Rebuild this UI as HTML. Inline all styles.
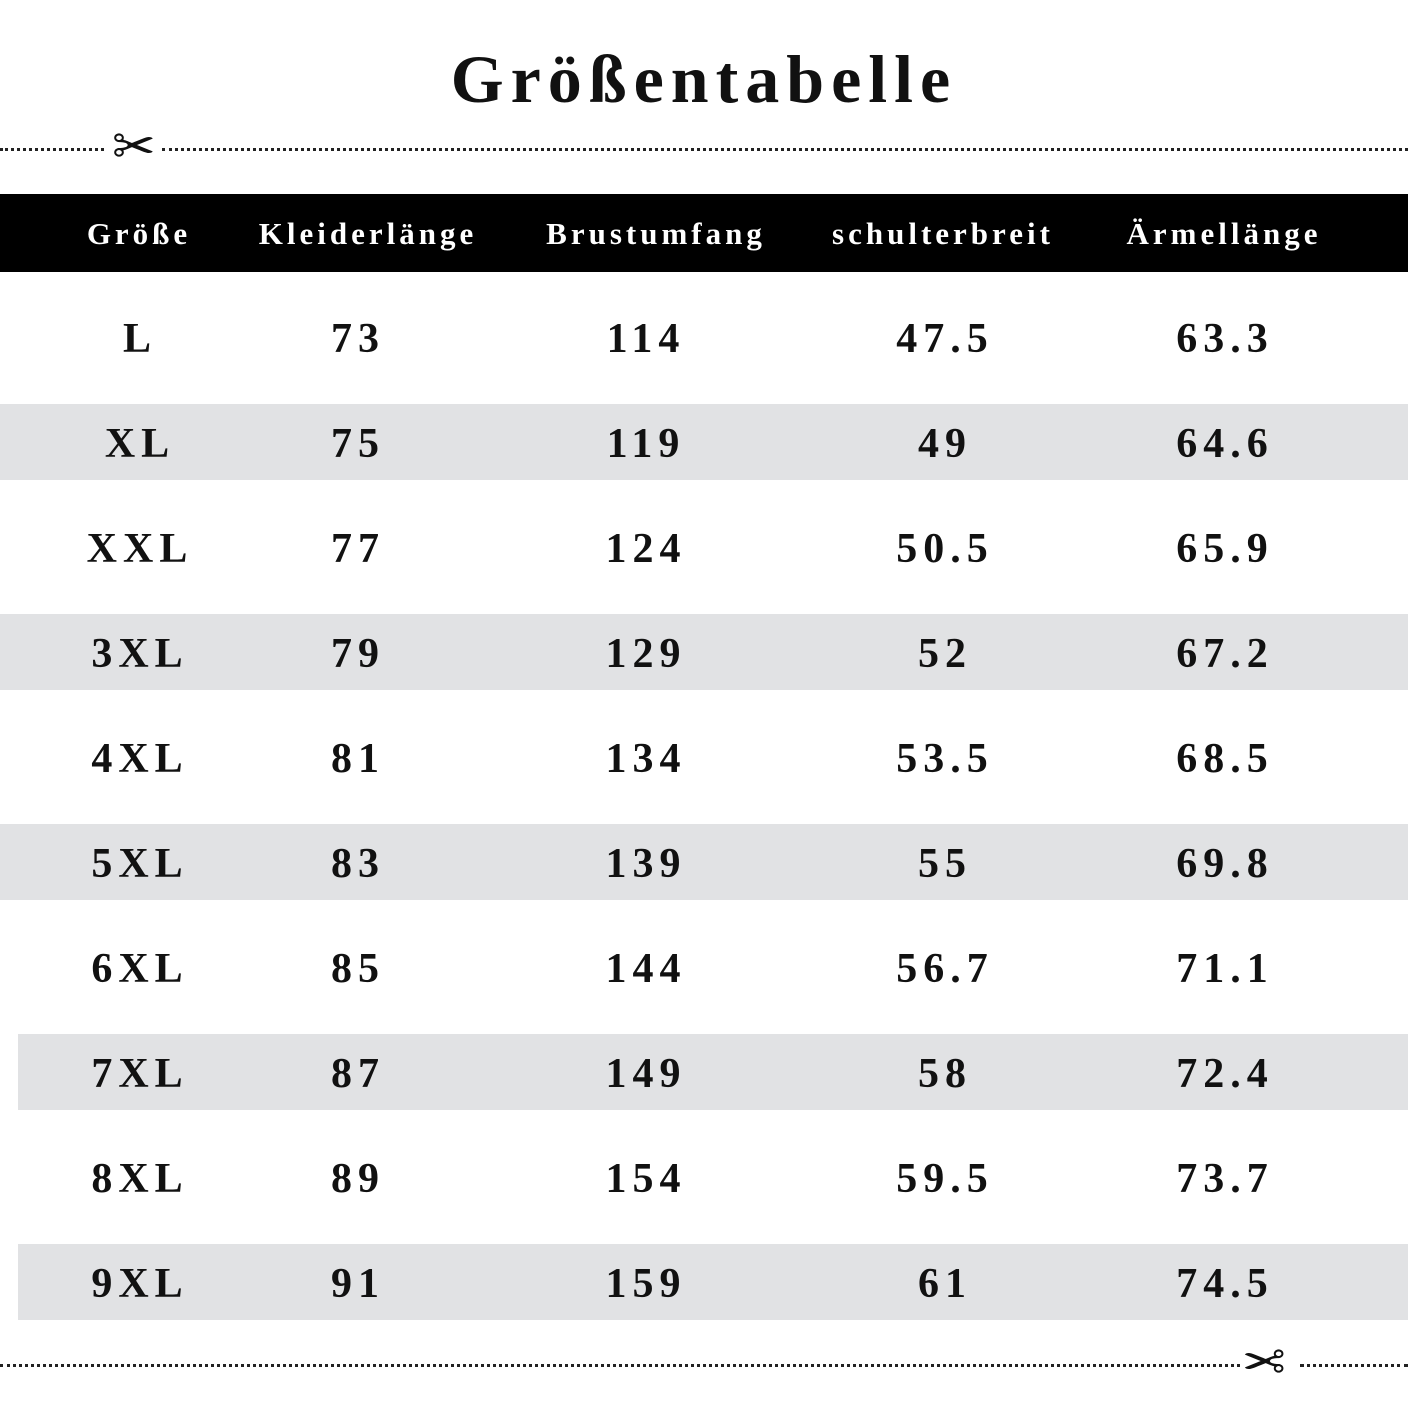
<!DOCTYPE html>
<html><head><meta charset="utf-8"><style>
html,body{margin:0;padding:0;background:#fff;}
body{width:1408px;height:1416px;position:relative;overflow:hidden;font-family:"Liberation Serif","DejaVu Serif",serif;color:#111;}
.title{position:absolute;top:40px;left:0;width:1408px;text-align:center;font-size:68px;font-weight:bold;letter-spacing:7px;}
.dots{position:absolute;height:0;border-top:3px dotted #222;}
.sc{position:absolute;font-size:52px;line-height:52px;color:#111;}
.hdr{position:absolute;left:0;top:194px;width:1408px;height:78px;background:#000;}
.band{position:absolute;height:76px;background:#e1e2e4;}
.c{position:absolute;text-align:center;width:300px;margin-left:-150px;font-weight:bold;}
.h{color:#fff;font-size:31px;letter-spacing:4px;top:216px;}
.d{font-size:42px;letter-spacing:6px;}
</style></head><body>
<div class="title">Größentabelle</div>
<div class="dots" style="left:0;width:104px;top:148px"></div>
<div class="sc" style="left:112px;top:122px">✂</div>
<div class="dots" style="left:162px;width:1246px;top:148px"></div>
<div class="dots" style="left:0;width:1240px;top:1364px"></div>
<div class="sc" style="left:1242px;top:1338px;transform:scaleX(-1)">✂</div>
<div class="dots" style="left:1300px;width:108px;top:1364px"></div>
<div class="hdr"></div>
<div class="c h" style="left:139px">Größe</div>
<div class="c h" style="left:368px">Kleiderlänge</div>
<div class="c h" style="left:656px">Brustumfang</div>
<div class="c h" style="left:943px">schulterbreit</div>
<div class="c h" style="left:1224px">Ärmellänge</div>
<div class="band" style="left:0;width:1408px;top:404px"></div>
<div class="band" style="left:0;width:1408px;top:614px"></div>
<div class="band" style="left:0;width:1408px;top:824px"></div>
<div class="band" style="left:18px;width:1390px;top:1034px"></div>
<div class="band" style="left:18px;width:1390px;top:1244px"></div>
<div id="rows"></div>
<script>
var data=[["L","73","114","47.5","63.3"],["XL","75","119","49","64.6"],["XXL","77","124","50.5","65.9"],["3XL","79","129","52","67.2"],["4XL","81","134","53.5","68.5"],["5XL","83","139","55","69.8"],["6XL","85","144","56.7","71.1"],["7XL","87","149","58","72.4"],["8XL","89","154","59.5","73.7"],["9XL","91","159","61","74.5"]];
var xs=[140,358,646,945,1225],h="";
data.forEach(function(r,i){var y=315+i*105;r.forEach(function(t,j){h+='<div class="c d" style="left:'+xs[j]+'px;top:'+y+'px">'+t+'</div>';});});
document.getElementById('rows').innerHTML=h;
</script>
</body></html>
